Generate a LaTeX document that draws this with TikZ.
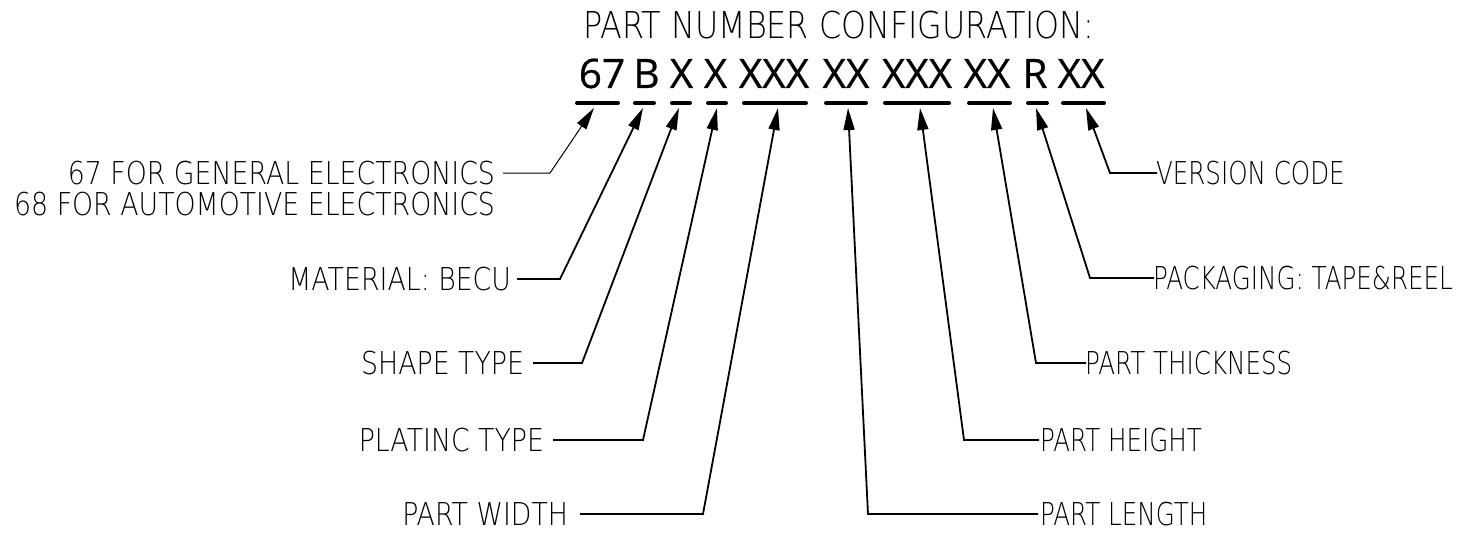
\documentclass[tikz,border=0pt]{standalone}
\usepackage{fontspec}
\usetikzlibrary{arrows.meta}
\newfontfamily\cadL[FakeStretch=0.85]{DejaVuSans-ExtraLight.ttf}
\newfontfamily\cadR[FakeStretch=0.78]{DejaVuSans-ExtraLight.ttf}
\newfontfamily\cadT[FakeStretch=0.86]{DejaVuSans-ExtraLight.ttf}
\newfontfamily\codefont[FakeBold=0.6]{Open Sans}
\tikzset{
  lblL/.style={inner sep=0pt, outer sep=0pt, anchor=east, font=\cadL\fontsize{31.5}{31}\selectfont},
  lblR/.style={inner sep=0pt, outer sep=0pt, anchor=west, font=\cadR\fontsize{31.5}{31.5}\selectfont},
  ttl/.style={inner sep=0pt, anchor=base west, font=\cadT\fontsize{37}{37}\selectfont},
  codetxt/.style={inner sep=0pt, anchor=base, font=\codefont\fontsize{40.6}{40.6}\selectfont},
  ul/.style={line width=4pt, line cap=round},
  lead/.style={line width=1.8pt, -{Triangle[length=22pt,width=11pt]}},
  leadthin/.style={line width=1pt, -{Triangle[length=22pt,width=11pt]}}
}
\begin{document}
\begin{tikzpicture}[x=1pt,y=-1pt]
\useasboundingbox (0,0) rectangle (1460,543);
% title
\node[ttl] (title) at (583,39) {PART NUMBER CONFIGURATION:};
% code
\node[codetxt] (c1) at (602,88) {67};
\node[codetxt] (c2) at (646.5,88) {B};
\node[codetxt] (c3) at (681.5,88) {X};
\node[codetxt] (c4) at (715.5,88) {X};
\node[codetxt] (c5) at (774,88) {XXX};
\node[codetxt] (c6) at (846,88) {XX};
\node[codetxt] (c7) at (917,88) {XXX};
\node[codetxt] (c8) at (987,88) {XX};
\node[codetxt] (c9) at (1035,88) {R};
\node[codetxt] (c10) at (1081,88) {XX};
% underlines
\draw[ul] (577,103) -- (618,103);
\draw[ul] (635,103) -- (654,103);
\draw[ul] (672,103) -- (690,103);
\draw[ul] (708,103) -- (726,103);
\draw[ul] (744,103) -- (806,103);
\draw[ul] (826,103) -- (866,103);
\draw[ul] (885,103) -- (949,103);
\draw[ul] (969,103) -- (1010,103);
\draw[ul] (1028,103) -- (1047,103);
\draw[ul] (1063,103) -- (1104,103);
% arrow tips
\coordinate (t1) at (594,108);
\coordinate (t2) at (643,108);
\coordinate (t3) at (679,108);
\coordinate (t4) at (717,108);
\coordinate (t5) at (778,108);
\coordinate (t6) at (848,108);
\coordinate (t7) at (920,108);
\coordinate (t8) at (993,108);
\coordinate (t9) at (1036,108);
\coordinate (t10) at (1086,108);
% elbows
\coordinate (e1) at (550,173);
\coordinate (e2) at (560,279);
\coordinate (e3) at (582,363);
\coordinate (e4) at (643,440);
\coordinate (e5) at (703,514);
\coordinate (e6) at (868,514);
\coordinate (e7) at (964,440);
\coordinate (e8) at (1036,363);
\coordinate (e9) at (1090,278);
\coordinate (e10) at (1110,173);
% left labels
\node[lblL, anchor=north east, align=right] (l1) at (495,161) {67 FOR GENERAL ELECTRONICS\\68 FOR AUTOMOTIVE ELECTRONICS};
\node[lblL] (l2) at (511,279) {MATERIAL: BECU};
\node[lblL] (l3) at (524,363) {SHAPE TYPE};
\node[lblL] (l4) at (544,440) {PLATINC TYPE};
\node[lblL] (l5) at (568,514) {PART WIDTH};
% right labels
\node[lblR] (l6) at (1040,514) {PART LENGTH};
\node[lblR] (l7) at (1040,440) {PART HEIGHT};
\node[lblR] (l8) at (1085,363) {PART THICKNESS};
\node[lblR] (l9) at (1153,278) {PACKAGING: TAPE\&REEL};
\node[lblR] (l10) at (1156,173) {VERSION CODE};
% leaders
\draw[leadthin] ([xshift=8pt,yshift=-12pt]l1.north east) -- (e1) -- (t1);
\draw[lead] ([xshift=6pt]l2.east) -- (e2) -- (t2);
\draw[lead] ([xshift=9pt]l3.east) -- (e3) -- (t3);
\draw[lead] ([xshift=9pt]l4.east) -- (e4) -- (t4);
\draw[lead] ([xshift=12pt]l5.east) -- (e5) -- (t5);
\draw[lead] ([xshift=-2pt]l6.west) -- (e6) -- (t6);
\draw[lead] ([xshift=-1pt]l7.west) -- (e7) -- (t7);
\draw[lead] ([xshift=1pt]l8.west) -- (e8) -- (t8);
\draw[lead] ([xshift=1pt]l9.west) -- (e9) -- (t9);
\draw[lead] ([xshift=1pt]l10.west) -- (e10) -- (t10);
\end{tikzpicture}
\end{document}
